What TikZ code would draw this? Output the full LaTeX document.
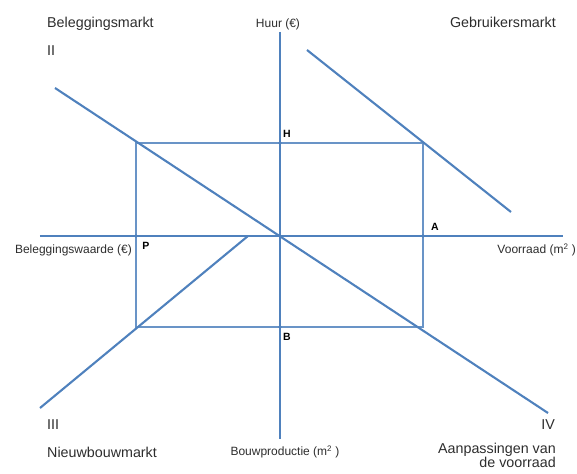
\documentclass[tikz,border=0pt]{standalone}
\usepackage{fontspec}
\setmainfont{Liberation Sans}
\usepackage{tikz}
\usetikzlibrary{calc,intersections}
\definecolor{lijn}{RGB}{79,129,189}
\definecolor{tekst}{RGB}{45,45,45}

\begin{document}
\begin{tikzpicture}[x=1pt,y=1pt,
	as/.style={draw,lijn,line width=2.1pt},
	hulp/.style={draw,lijn!85,line width=1.1pt},
	groot/.style={text=tekst,font=\fontsize{14.3}{14.3}\selectfont,inner sep=0pt},
	klein/.style={text=tekst,font=\fontsize{12}{14}\selectfont,inner sep=0pt},
	punt/.style={text=black,font=\fontsize{10.5}{12}\selectfont\bfseries,inner sep=0pt}]
			\useasboundingbox (-280,-237) rectangle (297,236);
			\def\hx{143}
			\def\px{-144}
			\def\hy{93}
			\def\by{-91}
			
			\coordinate (O) at (0,0);
			\coordinate (H) at (0,\hy);
			\coordinate (B) at (0,\by);
			\coordinate (P) at (\px,0);
			\coordinate (A) at (\hx,0);
			
			% hulplijnen
			\path[hulp] (\px,\hy) -- (H) -- (\hx,\hy) -- (A) -- (\hx,\by) -- (B) -- (\px,\by) -- (P) -- cycle;
			
			% assen
			\path[as,name path=l1] (0,204) -- (0,-203);
			\path[as,name path=l2] (-240,0) -- (283,0);
			
			% curven
			\path[as,name path=k1] (27,186) -- (231,24);
			\path[as,name path=k2] (-225,148) -- (268,-177);
			\path[as,name path=k3] (-32,0) -- (-240,-172);
			
			\foreach \p in {H,B,P,A} \fill[lijn] (\p) circle (1.8pt);
			
			\node[punt] (tH) at (7,102) {H};
			\node[punt] (tP) at (-134,-10) {P};
			\node[punt] (tA) at (155,9) {A};
			\node[punt] (tB) at (7,-101) {B};
			
			\node[klein] (t1) at (-2,212) {Huur (€)};
			\node[klein,anchor=east] (t2) at (-148,-14) {Beleggingswaarde (€)};
			\node[klein,anchor=east] (t3) at (296,-14) {Voorraad (m\textsuperscript{2} )};
			\node[klein] (t4) at (5,-216) {Bouwproductie (m\textsuperscript{2} )};
			
			\node[groot,anchor=west] (t5) at (-233,212) {Beleggingsmarkt};
			\node[groot,anchor=west] (t6) at (-233,185) {II};
			\node[groot,anchor=east] (t7) at (276,214) {Gebruikersmarkt};
			\node[groot,anchor=west] (t8) at (-233,-189) {III};
			\node[groot,anchor=west] (t9) at (-233,-216) {Nieuwbouwmarkt};
			\node[groot,anchor=east] (t10) at (275,-189) {IV};
			\node[groot,anchor=north east,align=right] (t11) at (276,-207) {Aanpassingen van\\de voorraad};

		\end{tikzpicture}
\end{document}
